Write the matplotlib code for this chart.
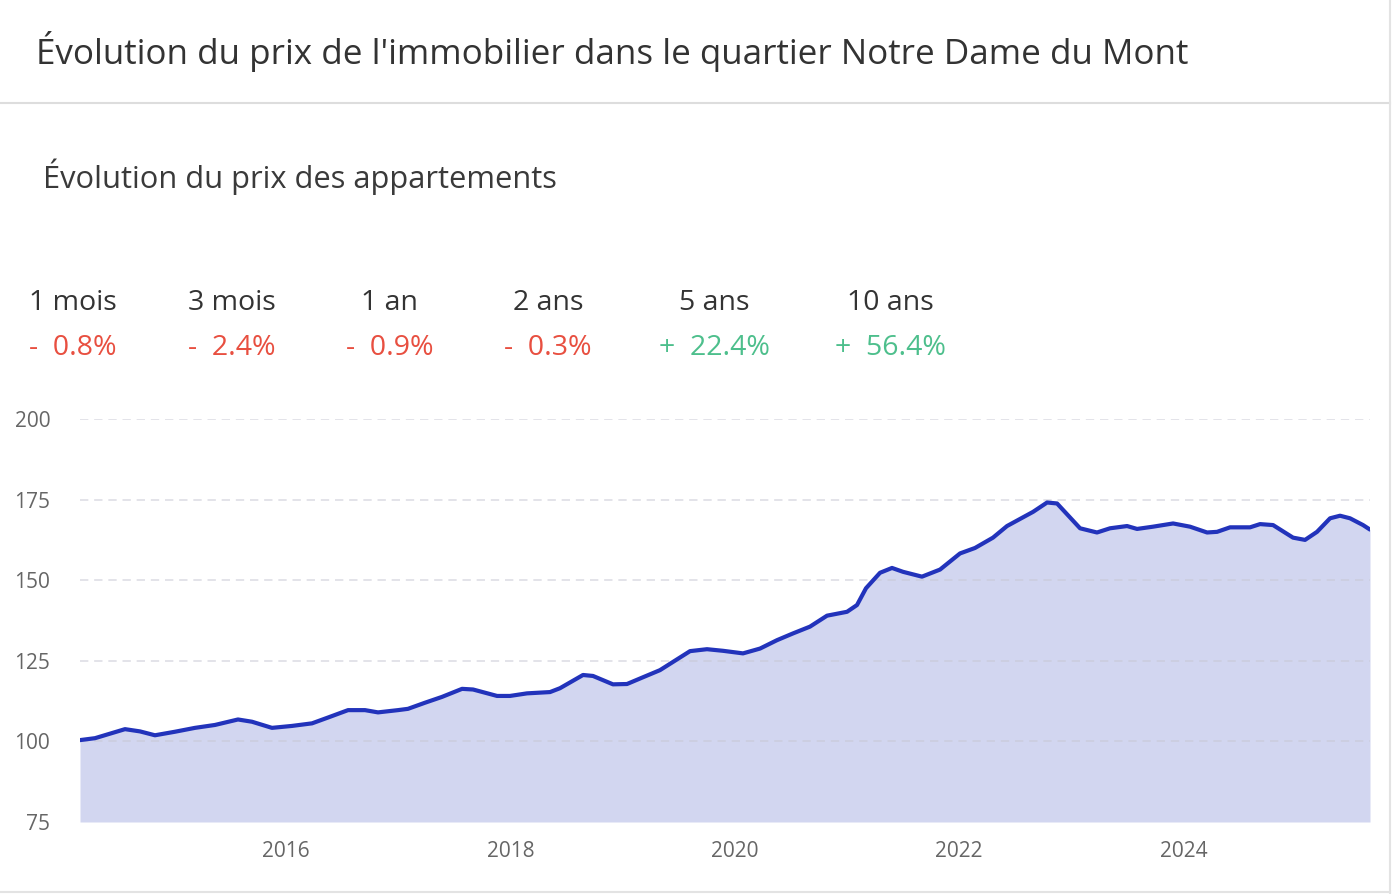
import matplotlib
matplotlib.use('Agg')
import matplotlib.pyplot as plt
from matplotlib.lines import Line2D

plt.rcParams['font.family'] = ['Open Sans', 'DejaVu Sans']

# data (decimal year, index base 100)
years = [2014.164, 2014.298, 2014.565, 2014.699, 2014.832, 2015.011, 2015.189, 2015.367,
         2015.572, 2015.697, 2015.875, 2016.053, 2016.232, 2016.374, 2016.553, 2016.704,
         2016.820, 2016.998, 2017.087, 2017.239, 2017.390, 2017.569, 2017.667, 2017.881,
         2017.996, 2018.148, 2018.353, 2018.442, 2018.647, 2018.736, 2018.914, 2019.039,
         2019.182, 2019.333, 2019.601, 2019.752, 2019.895, 2020.073, 2020.225, 2020.376,
         2020.519, 2020.670, 2020.822, 2021.000, 2021.089, 2021.169, 2021.294, 2021.401,
         2021.499, 2021.668, 2021.829, 2022.007, 2022.141, 2022.301, 2022.426, 2022.658,
         2022.783, 2022.872, 2023.077, 2023.228, 2023.344, 2023.496, 2023.585, 2023.727,
         2023.906, 2024.057, 2024.209, 2024.298, 2024.414, 2024.592, 2024.681, 2024.797,
         2024.975, 2025.082, 2025.189, 2025.305, 2025.394, 2025.483, 2025.599, 2025.661]
prix = [100.4, 101.0, 103.8, 103.1, 101.9, 103.0, 104.2, 105.1,
        106.8, 106.1, 104.2, 104.8, 105.6, 107.4, 109.7, 109.7,
        109.0, 109.7, 110.1, 112.0, 113.8, 116.3, 116.1, 114.1,
        114.1, 114.9, 115.3, 116.5, 120.6, 120.3, 117.7, 117.8,
        119.9, 122.1, 128.0, 128.6, 128.1, 127.3, 128.8, 131.4,
        133.5, 135.6, 139.0, 140.2, 142.3, 147.5, 152.3, 153.8,
        152.6, 151.1, 153.3, 158.3, 160.0, 163.2, 166.8, 171.2,
        174.1, 173.8, 166.1, 164.8, 166.1, 166.8, 165.9, 166.6,
        167.6, 166.6, 164.8, 165.0, 166.4, 166.4, 167.4, 167.1,
        163.2, 162.5, 165.0, 169.2, 170.0, 169.2, 167.1, 165.7]

periodes = ['1 mois', '3 mois', '1 an', '2 ans', '5 ans', '10 ans']
variations = [-0.8, -2.4, -0.9, -0.3, 22.4, 56.4]
x_ticks = [2016, 2018, 2020, 2022, 2024]
y_ticks = [75, 100, 125, 150, 175, 200]

W, H = 1392, 894
fig = plt.figure(figsize=(W / 100, H / 100), dpi=100)

def px(x, y):
    return x / W, 1 - y / H

# card frame
fig.add_artist(Line2D([0, 1390 / W], [1 - 103 / H] * 2, color='#dddddd', lw=1.5))
fig.add_artist(Line2D([1390 / W] * 2, [0, 1], color='#e3e3e3', lw=1.5))
fig.add_artist(Line2D([0, 1390 / W], [1 - 892 / H] * 2, color='#e3e3e3', lw=1.5))

fig.text(*px(36, 52), "Évolution du prix de l'immobilier dans le quartier Notre Dame du Mont",
         fontsize=25.2, color='#333333', va='center', ha='left')
fig.text(*px(43, 177), 'Évolution du prix des appartements',
         fontsize=22.2, color='#3a3a3a', va='center', ha='left')

centres = [73, 232, 390, 548, 714, 890]
for cx, p, v in zip(centres, periodes, variations):
    fig.text(*px(cx, 303), p, fontsize=20.5, color='#333333', ha='center', va='center')
    col = '#4dbf8c' if v > 0 else '#e84f40'
    s = ('+  %.1f%%' % v) if v > 0 else ('-  %.1f%%' % abs(v))
    fig.text(*px(cx, 348), s, fontsize=20.5, color=col, ha='center', va='center')

# chart
left, right, top, bottom = 80, 1370, 419, 822
ax = fig.add_axes([left / W, 1 - bottom / H, (right - left) / W, (bottom - top) / H])
ax.fill_between(years, prix, 75, color='#d2d6f0', lw=0, zorder=1)
ax.plot(years, prix, color='#2233bb', lw=3.0, solid_joinstyle='round',
        solid_capstyle='round', zorder=3)
ax.set_xlim(years[0], years[-1])
ax.set_ylim(75, 200)
for yv in y_ticks[1:]:
    ax.axhline(yv, color='#c8c8d4', lw=1.2, ls=(0, (5, 3.5)), alpha=0.6, zorder=2)
ax.set_yticks(y_ticks)
ax.set_xticks(x_ticks)
ax.set_xticklabels([str(t) for t in x_ticks])
ax.tick_params(length=0, labelsize=15, colors='#666666')
ax.tick_params(axis='y', pad=21.5)
ax.tick_params(axis='x', pad=14)
for sp in ax.spines.values():
    sp.set_visible(False)

plt.savefig('out.png', dpi=100)
